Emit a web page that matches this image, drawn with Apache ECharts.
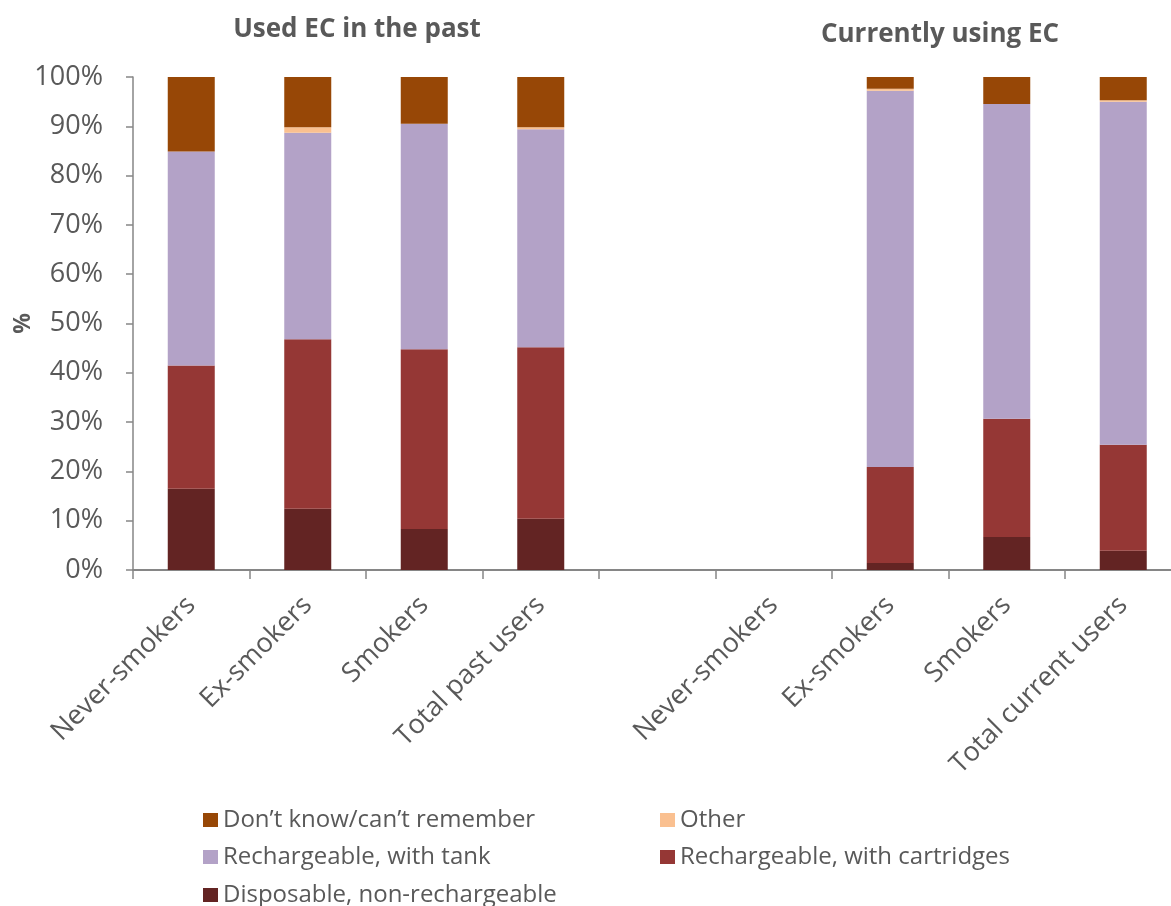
<!DOCTYPE html>
<html>
<head>
<meta charset="utf-8">
<title>EC device type</title>
<script src="https://cdn.jsdelivr.net/npm/echarts@6/dist/echarts.min.js"></script>
<style>
    html, body { margin: 0; padding: 0; background: #fff; }
    #chart { width: 1171px; height: 906px; }
</style>
</head>
<body>
<div id="chart"></div>
<script>
    // categories (empty slot separates past / current groups)
    var categories = ['Never-smokers', 'Ex-smokers', 'Smokers', 'Total past users', '',
                      'Never-smokers', 'Ex-smokers', 'Smokers', 'Total current users'];
    // values in %
    var disposable = [16.5, 12.4, 8.3, 10.4, null, null, 1.4, 6.7, 3.9];
    var cartridges = [25.0, 34.4, 36.5, 34.8, null, null, 19.5, 24.0, 21.5];
    var tank       = [43.4, 41.9, 45.7, 44.2, null, null, 76.3, 63.8, 69.6];
    var other      = [0, 1.1, 0, 0.4, null, null, 0.4, 0, 0.3];
    var dontKnow   = [15.1, 10.2, 9.5, 10.2, null, null, 2.4, 5.5, 4.7];
    var yTicks = [0, 100, 10]; // min, max, step

    var FONT = 'Open Sans';
    var TXT = '#595959';
    var AXIS = '#868686';

    var names = {
        dk: 'Don\u2019t know/can\u2019t remember',
        other: 'Other',
        tank: 'Rechargeable, with tank',
        cart: 'Rechargeable, with cartridges',
        disp: 'Disposable, non-rechargeable'
    };

    function bar(name, data, color) {
        return {
            name: name,
            type: 'bar',
            stack: 'total',
            data: data,
            barWidth: 47,
            itemStyle: { color: color },
            emphasis: { disabled: true }
        };
    }

    // one legend per entry so the 2-column layout is fixed
    function legendItem(name, left, top) {
        return {
            left: left, top: top, padding: 0,
            itemWidth: 15, itemHeight: 14, icon: 'rect',
            selectedMode: false,
            data: [name],
            textStyle: { fontFamily: FONT, fontSize: 24, color: TXT }
        };
    }

    var myChart = echarts.init(document.getElementById('chart'));
    var option = {
        animation: false,
        textStyle: { fontFamily: FONT },
        title: [
            {
                text: 'Used EC in the past',
                left: 357, top: 17, padding: 0, textAlign: 'center',
                textStyle: { fontFamily: FONT, fontSize: 26, fontWeight: 'bold', color: TXT }
            },
            {
                text: 'Currently using EC',
                left: 940, top: 22, padding: 0, textAlign: 'center',
                textStyle: { fontFamily: FONT, fontSize: 26, fontWeight: 'bold', color: TXT }
            }
        ],
        legend: [
            legendItem(names.dk, 203, 808),
            legendItem(names.other, 660, 808),
            legendItem(names.tank, 203, 845),
            legendItem(names.cart, 660, 845),
            legendItem(names.disp, 203, 883)
        ],
        grid: {
            left: 133, top: 77, width: 1048.5, bottom: 336,
            containLabel: false, outerBoundsMode: 'none'
        },
        xAxis: {
            type: 'category',
            data: categories,
            axisLine: { show: true, lineStyle: { color: AXIS, width: 2 } },
            axisTick: { show: true, length: 9, lineStyle: { color: AXIS, width: 1.5 } },
            axisLabel: {
                interval: 0, rotate: 45, margin: 31,
                fontFamily: FONT, fontSize: 27, color: TXT
            },
            splitLine: { show: false }
        },
        yAxis: {
            type: 'value',
            min: yTicks[0], max: yTicks[1], interval: yTicks[2],
            name: '%',
            nameLocation: 'middle',
            nameRotate: 90,
            nameGap: 98,
            nameMoveOverlap: false,
            nameTextStyle: { fontFamily: FONT, fontSize: 23, fontWeight: 'bold', color: TXT },
            axisLine: { show: true, lineStyle: { color: AXIS, width: 1.5 } },
            axisTick: { show: true, length: 7, lineStyle: { color: AXIS, width: 1.5 } },
            axisLabel: { formatter: '{value}%', margin: 30, fontFamily: FONT, fontSize: 27, color: TXT },
            splitLine: { show: false }
        },
        series: [
            bar(names.disp, disposable, '#632423'),
            bar(names.cart, cartridges, '#953735'),
            bar(names.tank, tank, '#B3A2C7'),
            bar(names.other, other, '#FAC090'),
            bar(names.dk, dontKnow, '#974706')
        ]
    };
    myChart.setOption(option);
</script>
</body>
</html>
